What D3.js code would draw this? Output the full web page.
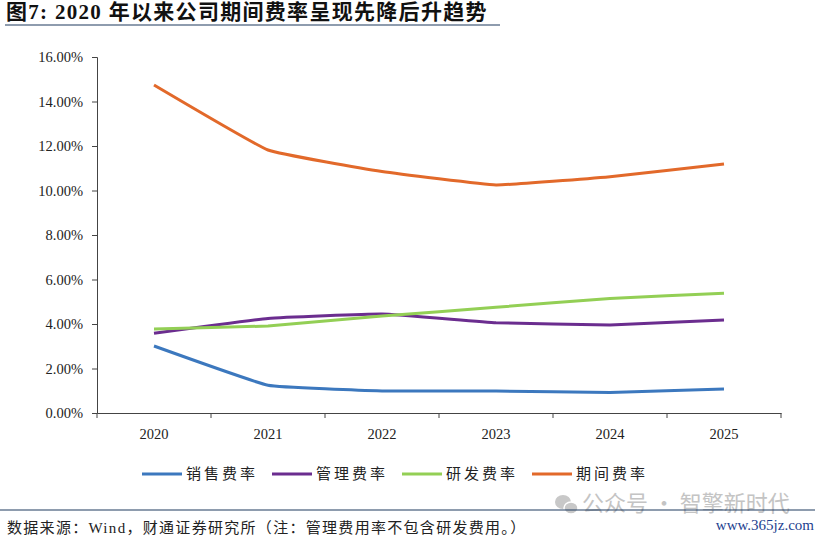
<!DOCTYPE html>
<html>
<head>
<meta charset="utf-8">
<script src="https://cdn.jsdelivr.net/npm/d3@7"></script>
<style>
  body { margin: 0; background: #fff; }
  svg { display: block; }
</style>
</head>
<body>
<div class="container"></div>
<script>
var years = ['2020', '2021', '2022', '2023', '2024', '2025'];
var names = ['销售费率', '管理费率', '研发费率', '期间费率'];
var xiaoshou = [3.01, 1.25, 0.99, 0.99, 0.92, 1.08];
var guanli   = [3.58, 4.25, 4.45, 4.06, 3.96, 4.18];
var yanfa    = [3.78, 3.91, 4.36, 4.75, 5.15, 5.38];
var qijian   = [14.74, 11.82, 10.85, 10.25, 10.62, 11.19];
var yTicks = [0, 2, 4, 6, 8, 10, 12, 14, 16];

var colors = ['#3C78BE', '#6B2D8F', '#93CF55', '#E2692A'];
var series = [xiaoshou, guanli, yanfa, qijian];

var serif = '"Liberation Serif", "Noto Sans CJK SC", serif';
var cjk = '"Noto Sans CJK SC", "Liberation Serif", serif';

var svg = d3.select('.container')
    .append('svg')
    .attr('width', 822)
    .attr('height', 540);

// title
svg.append('text')
    .attr('x', 6)
    .attr('y', 19)
    .text('图7: 2020 年以来公司期间费率呈现先降后升趋势')
    .style('font-family', serif)
    .style('font-size', '21px')
    .style('letter-spacing', '1.3px')
    .style('font-weight', 'bold')
    .style('fill', '#111');

svg.append('line')
    .attr('x1', 5).attr('x2', 500)
    .attr('y1', 25).attr('y2', 25)
    .style('stroke', '#1F3A5F')
    .style('stroke-width', 1.2);

var x = d3.scaleBand()
    .domain(years)
    .range([97, 781]);

var y = d3.scaleLinear()
    .domain([0, 16])
    .range([413, 57]);

// y axis
svg.append('g')
    .attr('transform', 'translate(97,0)')
    .call(d3.axisLeft(y).tickValues(yTicks).tickSize(5).tickPadding(9)
        .tickFormat(d => d.toFixed(2) + '%'))
    .call(g => g.selectAll('text')
        .style('font-family', serif)
        .style('font-size', '14.5px')
        .style('fill', '#222'))
    .call(g => g.selectAll('line, path').style('stroke', '#444'));

// x axis
svg.append('g')
    .attr('transform', 'translate(0,413)')
    .call(d3.axisBottom(x).tickSize(0).tickPadding(16))
    .call(g => g.select('.domain').style('stroke', '#444'))
    .call(g => g.selectAll('text')
        .style('font-family', serif)
        .style('font-size', '14.5px')
        .style('fill', '#222'));

var bounds = years.map(d => x(d)).concat([x(years[years.length - 1]) + x.bandwidth()]);
svg.append('g')
    .selectAll('line')
    .data(bounds)
    .enter()
    .append('line')
    .attr('x1', d => d).attr('x2', d => d)
    .attr('y1', 413).attr('y2', 418)
    .style('stroke', '#444');

var line = d3.line()
    .x((d, i) => x(years[i]) + x.bandwidth() / 2)
    .y(d => y(d))
    .curve(d3.curveCardinal.tension(0.7));

svg.selectAll('.series')
    .data(series)
    .enter()
    .append('path')
    .attr('class', 'series')
    .attr('d', d => line(d))
    .style('fill', 'none')
    .style('stroke', (d, i) => colors[i])
    .style('stroke-width', 3);

// legend
var legX = [142, 272, 402, 532];
var leg = svg.selectAll('.leg')
    .data(names)
    .enter()
    .append('g')
    .attr('class', 'leg')
    .attr('transform', (d, i) => 'translate(' + legX[i] + ',474)');

leg.append('line')
    .attr('x1', 0).attr('x2', 40)
    .attr('y1', 0).attr('y2', 0)
    .style('stroke', (d, i) => colors[i])
    .style('stroke-width', 3);

leg.append('text')
    .attr('x', 44)
    .attr('y', 5)
    .text(d => d)
    .style('font-family', cjk)
    .style('font-size', '15px')
    .style('letter-spacing', '3px')
    .style('fill', '#222');

// watermark
var icon = svg.append('g').style('fill', '#c8c8c8');
icon.append('ellipse').attr('cx', 563).attr('cy', 502).attr('rx', 8).attr('ry', 7);
icon.append('ellipse').attr('cx', 571).attr('cy', 508).attr('rx', 7).attr('ry', 6)
    .style('stroke', '#fff').style('stroke-width', 1.5);

svg.append('text')
    .attr('x', 582)
    .attr('y', 511)
    .text('公众号 · 智擎新时代')
    .style('font-family', cjk)
    .style('font-size', '22px')
    .style('fill', '#c4c4c4');

// footer line
svg.append('line')
    .attr('x1', 0).attr('x2', 815)
    .attr('y1', 510).attr('y2', 510)
    .style('stroke', '#1F3A5F')
    .style('stroke-width', 1.2);

svg.append('text')
    .attr('x', 7)
    .attr('y', 533)
    .text('数据来源：Wind，财通证券研究所（注：管理费用率不包含研发费用。）')
    .style('font-family', serif)
    .style('font-size', '15px')
    .style('letter-spacing', '1.3px')
    .style('fill', '#222');

svg.append('text')
    .attr('x', 814)
    .attr('y', 530)
    .attr('text-anchor', 'end')
    .text('www.365jz.com')
    .style('font-family', serif)
    .style('font-size', '15px')
    .style('fill', '#1E3F8F');
</script>
</body>
</html>
